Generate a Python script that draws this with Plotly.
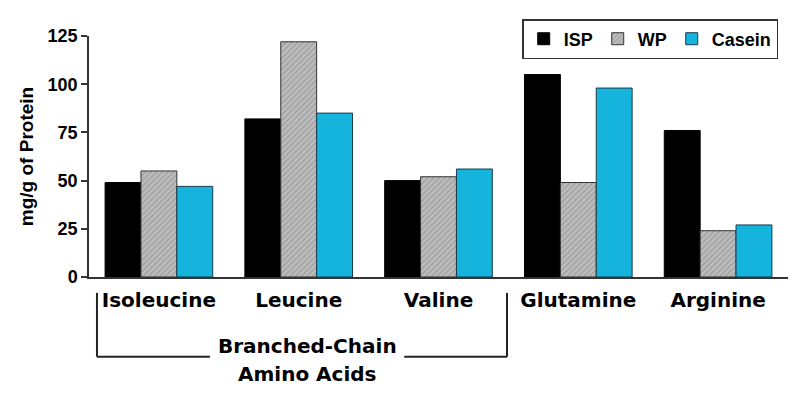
import plotly.graph_objects as go

categories = ["Isoleucine", "Leucine", "Valine", "Glutamine", "Arginine"]
isp = [49, 82, 50, 105, 76]
wp = [55, 122, 52, 49, 24]
casein = [47, 85, 56, 98, 27]
y_ticks = [0, 25, 50, 75, 100, 125]

FONT = "Liberation Sans, Arial, sans-serif"
WIDE = "DejaVu Sans, Verdana, sans-serif"

fig = go.Figure()
fig.add_trace(go.Bar(name="<b>ISP</b>", x=categories, y=isp,
                     marker=dict(color="#000000", line=dict(color="#000000", width=1))))
fig.add_trace(go.Bar(name="<b>WP</b>", x=categories, y=wp,
                     marker=dict(color="#b4b4b4",
                                 pattern=dict(shape="/", fgcolor="#7a7a7a", bgcolor="#bdbdbd",
                                              size=4, solidity=0.3),
                                 line=dict(color="#333333", width=1))))
fig.add_trace(go.Bar(name="<b>Casein</b>", x=categories, y=casein,
                     marker=dict(color="#14b4dc", line=dict(color="#1a3a4a", width=1))))

fig.update_layout(
    width=792, height=392,
    barmode="group", bargap=0.23, bargroupgap=0,
    plot_bgcolor="white", paper_bgcolor="white",
    margin=dict(l=81, r=12, t=27, b=123),
    font=dict(family=FONT, color="black"),
    legend=dict(orientation="h", x=0.986, y=1.066, xanchor="right", yanchor="top",
                bordercolor="#333333", borderwidth=1.5, bgcolor="white",
                font=dict(size=18, family=FONT), itemwidth=30, tracegroupgap=0),
    xaxis=dict(showline=True, linecolor="#333333", linewidth=1.5, ticks="",
               range=[-0.5, 4.5], ticklabelstandoff=4,
               tickfont=dict(size=20, family=WIDE),
               tickvals=categories,
               ticktext=["<b>%s</b>" % c for c in categories]),
    yaxis=dict(range=[0, 125], tickvals=y_ticks,
               ticktext=["<b>%d</b>" % v for v in y_ticks],
               showline=True, linecolor="#333333", linewidth=1.5,
               ticks="outside", ticklen=6, tickcolor="#333333", tickwidth=1.5,
               showgrid=False, zeroline=False,
               tickfont=dict(size=18, family=FONT),
               title=dict(text="<b>mg/g of Protein</b>", font=dict(size=19, family=FONT), standoff=9)),
)

line = dict(color="#222222", width=2)
x_left, x_right = 0.0114, 0.598
y_top, y_bot = -0.066, -0.331
fig.add_shape(type="line", xref="paper", yref="paper", x0=x_left, x1=x_left, y0=y_top, y1=y_bot, line=line)
fig.add_shape(type="line", xref="paper", yref="paper", x0=x_right, x1=x_right, y0=y_top, y1=y_bot, line=line)
fig.add_shape(type="line", xref="paper", yref="paper", x0=x_left, x1=0.173, y0=y_bot, y1=y_bot, line=line)
fig.add_shape(type="line", xref="paper", yref="paper", x0=0.451, x1=x_right, y0=y_bot, y1=y_bot, line=line)

fig.add_annotation(xref="paper", yref="paper", x=0.312, y=-0.285, text="<b>Branched-Chain</b>",
                   xanchor="center", yanchor="middle",
                   showarrow=False, font=dict(size=20, family=WIDE))
fig.add_annotation(xref="paper", yref="paper", x=0.312, y=-0.403, text="<b>Amino Acids</b>",
                   xanchor="center", yanchor="middle",
                   showarrow=False, font=dict(size=20, family=WIDE))

fig.write_html("out.html")
